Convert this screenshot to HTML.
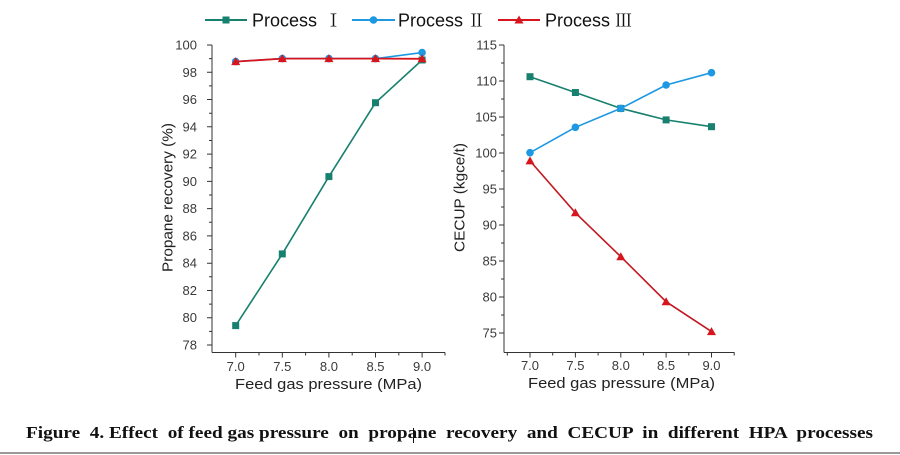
<!DOCTYPE html>
<html>
<head>
<meta charset="utf-8">
<style>
  html,body{margin:0;padding:0;background:#fff;}
  svg{display:block;}
</style>
</head>
<body>
<svg width="900" height="455" viewBox="0 0 900 455" xmlns="http://www.w3.org/2000/svg">
  <rect width="900" height="455" fill="#fff"/>

  <!-- Legend -->
  <g font-family="Liberation Sans, Noto Sans CJK SC, sans-serif" font-size="18" fill="#111">
    <line x1="205" y1="20" x2="247" y2="20" stroke="#17806f" stroke-width="2"/>
    <rect x="222.5" y="16.5" width="7" height="7" fill="#17806f"/>
    <text x="252" y="26.5">Process</text>
    <text x="325" y="26.5" font-family="Noto Serif CJK SC, serif" font-size="17">Ⅰ</text>
    <line x1="352" y1="20" x2="395" y2="20" stroke="#1e98e2" stroke-width="2"/>
    <circle cx="373.5" cy="20" r="3.8" fill="#1e98e2"/>
    <text x="398" y="26.5">Process</text>
    <text x="468" y="26.5" font-family="Noto Serif CJK SC, serif" font-size="17">Ⅱ</text>
    <line x1="498" y1="20" x2="540" y2="20" stroke="#d8141c" stroke-width="2"/>
    <polygon points="519,15.5 523.5,23.5 514.5,23.5" fill="#d8141c"/>
    <text x="545" y="26.5">Process</text>
    <text x="615" y="26.5" font-family="Noto Serif CJK SC, serif" font-size="17">Ⅲ</text>
  </g>

  <!-- LEFT CHART -->
  <g stroke="#333" stroke-width="1" fill="none">
    <line x1="212" y1="45" x2="212" y2="352.5"/>
    <line x1="212" y1="352.5" x2="445" y2="352.5"/>
    <path d="M207 45H212 M207 72.3H212 M207 99.5H212 M207 126.8H212 M207 154.1H212 M207 181.4H212 M207 208.6H212 M207 235.9H212 M207 263.2H212 M207 290.5H212 M207 317.7H212 M207 345H212"/>
    <path d="M209 58.6H212 M209 85.9H212 M209 113.2H212 M209 140.5H212 M209 167.7H212 M209 195H212 M209 222.3H212 M209 249.5H212 M209 276.8H212 M209 304.1H212 M209 331.4H212"/>
    <path d="M235.7 352.5V357.5 M282.3 352.5V357.5 M328.9 352.5V357.5 M375.5 352.5V357.5 M422.1 352.5V357.5"/>
    <path d="M259 352.5V355.5 M305.6 352.5V355.5 M352.2 352.5V355.5 M398.8 352.5V355.5 M445 352.5V355.5"/>
  </g>
  <g font-family="Liberation Sans, sans-serif" font-size="13" fill="#3a3a3a" text-anchor="end">
    <text x="197" y="49.5">100</text>
    <text x="197" y="76.8">98</text>
    <text x="197" y="104">96</text>
    <text x="197" y="131.3">94</text>
    <text x="197" y="158.6">92</text>
    <text x="197" y="185.9">90</text>
    <text x="197" y="213.1">88</text>
    <text x="197" y="240.4">86</text>
    <text x="197" y="267.7">84</text>
    <text x="197" y="295">82</text>
    <text x="197" y="322.2">80</text>
    <text x="197" y="349.5">78</text>
  </g>
  <g font-family="Liberation Sans, sans-serif" font-size="13" fill="#3a3a3a" text-anchor="middle">
    <text x="235.7" y="371">7.0</text>
    <text x="282.3" y="371">7.5</text>
    <text x="328.9" y="371">8.0</text>
    <text x="375.5" y="371">8.5</text>
    <text x="422.1" y="371">9.0</text>
  </g>
  <text x="235" y="389" font-family="Liberation Sans, sans-serif" font-size="15" fill="#222" textLength="187" lengthAdjust="spacingAndGlyphs">Feed gas pressure (MPa)</text>
  <text transform="translate(172.5,197.5) rotate(-90)" text-anchor="middle" font-family="Liberation Sans, sans-serif" font-size="15" fill="#222" textLength="149" lengthAdjust="spacingAndGlyphs">Propane recovery (%)</text>

  <!-- left series -->
  <polyline points="235.7,325.6 282.3,253.9 328.9,176.6 375.5,102.7 422.1,60" fill="none" stroke="#17806f" stroke-width="1.6"/>
  <g fill="#17806f">
    <rect x="232.2" y="322.1" width="7" height="7"/>
    <rect x="278.8" y="250.4" width="7" height="7"/>
    <rect x="325.4" y="173.1" width="7" height="7"/>
    <rect x="372" y="99.2" width="7" height="7"/>
    <rect x="418.6" y="56.5" width="7" height="7"/>
  </g>
  <polyline points="235.7,61.6 282.3,58.6 328.9,58.6 375.5,58.6 422.1,52.6" fill="none" stroke="#1e98e2" stroke-width="1.6"/>
  <g fill="#1e98e2">
    <circle cx="235.7" cy="61.6" r="3.8"/>
    <circle cx="282.3" cy="58.6" r="3.8"/>
    <circle cx="328.9" cy="58.6" r="3.8"/>
    <circle cx="375.5" cy="58.6" r="3.8"/>
    <circle cx="422.1" cy="52.6" r="3.8"/>
  </g>
  <polyline points="235.7,61.6 282.3,58.6 328.9,58.6 375.5,58.6 422.1,58.8" fill="none" stroke="#d8141c" stroke-width="1.8"/>
  <g fill="#d8141c">
    <polygon points="235.7,57.1 240.2,65.1 231.2,65.1"/>
    <polygon points="282.3,54.1 286.8,62.1 277.8,62.1"/>
    <polygon points="328.9,54.1 333.4,62.1 324.4,62.1"/>
    <polygon points="375.5,54.1 380,62.1 371,62.1"/>
    <polygon points="422.1,54.3 426.6,62.3 417.6,62.3"/>
  </g>

  <!-- RIGHT CHART -->
  <g stroke="#333" stroke-width="1" fill="none">
    <line x1="504" y1="45" x2="504" y2="352.5"/>
    <line x1="504" y1="352.5" x2="734.5" y2="352.5"/>
    <path d="M499 45H504 M499 81H504 M499 117H504 M499 153H504 M499 189H504 M499 225H504 M499 261H504 M499 297H504 M499 333H504"/>
    <path d="M501 63H504 M501 99H504 M501 135H504 M501 171H504 M501 207H504 M501 243H504 M501 279H504 M501 315H504"/>
    <path d="M530 352.5V357.5 M575.4 352.5V357.5 M620.8 352.5V357.5 M666.1 352.5V357.5 M711.5 352.5V357.5"/>
    <path d="M507.3 352.5V355.5 M552.7 352.5V355.5 M598.1 352.5V355.5 M643.4 352.5V355.5 M688.8 352.5V355.5 M734.2 352.5V355.5"/>
  </g>
  <g font-family="Liberation Sans, sans-serif" font-size="13" fill="#3a3a3a" text-anchor="end">
    <text x="497" y="49.5">115</text>
    <text x="497" y="85.5">110</text>
    <text x="497" y="121.5">105</text>
    <text x="497" y="157.5">100</text>
    <text x="497" y="193.5">95</text>
    <text x="497" y="229.5">90</text>
    <text x="497" y="265.5">85</text>
    <text x="497" y="301.5">80</text>
    <text x="497" y="337.5">75</text>
  </g>
  <g font-family="Liberation Sans, sans-serif" font-size="13" fill="#3a3a3a" text-anchor="middle">
    <text x="530" y="370">7.0</text>
    <text x="575.4" y="370">7.5</text>
    <text x="620.8" y="370">8.0</text>
    <text x="666.1" y="370">8.5</text>
    <text x="711.5" y="370">9.0</text>
  </g>
  <text x="528" y="388" font-family="Liberation Sans, sans-serif" font-size="15" fill="#222" textLength="187" lengthAdjust="spacingAndGlyphs">Feed gas pressure (MPa)</text>
  <text transform="translate(464.5,197.5) rotate(-90)" text-anchor="middle" font-family="Liberation Sans, sans-serif" font-size="15" fill="#222" textLength="109" lengthAdjust="spacingAndGlyphs">CECUP (kgce/t)</text>

  <!-- right series -->
  <polyline points="530,76.7 575.4,92.5 620.8,108.4 666.1,119.9 711.5,126.7" fill="none" stroke="#17806f" stroke-width="1.6"/>
  <g fill="#17806f">
    <rect x="526.5" y="73.2" width="7" height="7"/>
    <rect x="571.9" y="89" width="7" height="7"/>
    <rect x="617.3" y="104.9" width="7" height="7"/>
    <rect x="662.6" y="116.4" width="7" height="7"/>
    <rect x="708" y="123.2" width="7" height="7"/>
  </g>
  <polyline points="530,152.7 575.4,127.3 620.8,108.4 666.1,85 711.5,72.7" fill="none" stroke="#1e98e2" stroke-width="1.6"/>
  <g fill="#1e98e2">
    <circle cx="530" cy="152.7" r="3.8"/>
    <circle cx="575.4" cy="127.3" r="3.8"/>
    <circle cx="620.8" cy="108.4" r="3.8"/>
    <circle cx="666.1" cy="85" r="3.8"/>
    <circle cx="711.5" cy="72.7" r="3.8"/>
  </g>
  <polyline points="530,160.9 575.4,212.8 620.8,256.7 666.1,301.7 711.5,331.6" fill="none" stroke="#c21820" stroke-width="1.6"/>
  <g fill="#d8141c">
    <polygon points="530,156.4 534.5,164.4 525.5,164.4"/>
    <polygon points="575.4,208.3 579.9,216.3 570.9,216.3"/>
    <polygon points="620.8,252.2 625.3,260.2 616.3,260.2"/>
    <polygon points="666.1,297.2 670.6,305.2 661.6,305.2"/>
    <polygon points="711.5,327.1 716,335.1 707,335.1"/>
  </g>

  <!-- Caption -->
  <text x="26" y="438" font-family="Liberation Serif, serif" font-weight="bold" font-size="16.5" fill="#111" textLength="847" lengthAdjust="spacingAndGlyphs" xml:space="preserve">Figure  4. Effect  of feed gas pressure  on  propane  recovery  and  CECUP  in  different  HPA  processes</text>
  <line x1="413.5" y1="428" x2="413.5" y2="443" stroke="#111" stroke-width="1"/>
  <line x1="0" y1="453" x2="900" y2="453" stroke="#9a9a9a" stroke-width="2"/>
</svg>
</body>
</html>
